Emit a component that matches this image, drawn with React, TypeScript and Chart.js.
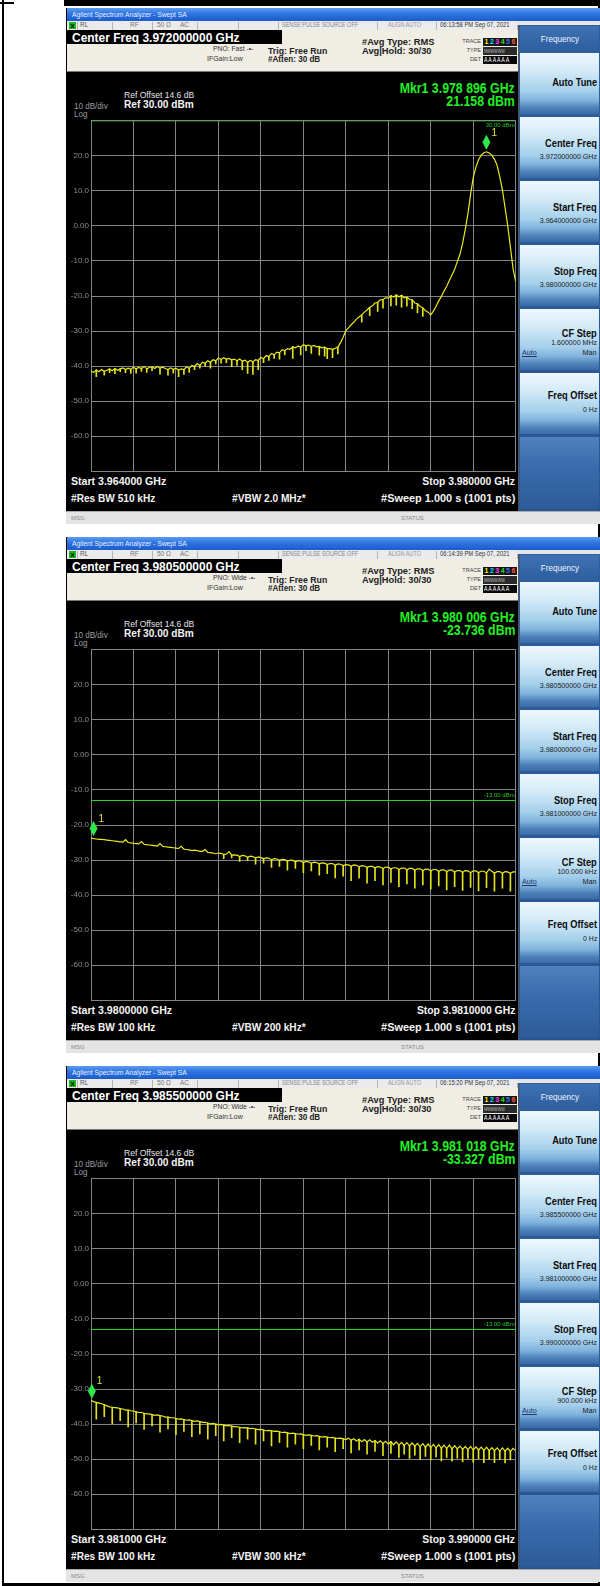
import React, { useEffect, useRef } from 'react';
import { Chart, registerables } from 'chart.js';
Chart.register(...registerables);

const FONT = '"Liberation Sans", Arial, Helvetica, sans-serif';

// ---------------- data ----------------
const sweepStartGHz = [3.964, 3.98, 3.981];
const sweepStopGHz = [3.98, 3.981, 3.99];

// trace levels (dBm) on evenly spaced sweep bins
const trace1Dbm = [
  -41.4, -41.8, -41.1, -41.6, -41.0, -41.5, -41.2, -40.8,
  -41.3, -40.7, -41.2, -40.8, -40.5, -41.0, -40.6, -40.9,
  -40.3, -40.8, -40.4, -40.7, -40.1, -40.8, -40.4, -40.2,
  -40.7, -40.1, -40.6, -40.3, -40.7, -41.0, -40.5, -40.9,
  -40.6, -41.1, -40.8, -41.0, -40.2, -40.7, -39.8, -40.1,
  -39.3, -39.8, -38.9, -39.2, -38.5, -38.9, -38.2, -38.5,
  -37.7, -38.1, -37.6, -38.0, -37.8, -38.2, -38.0, -38.5,
  -38.0, -38.6, -38.3, -38.9, -38.4, -38.8, -38.2, -38.4,
  -37.5, -37.9, -37.0, -37.3, -36.4, -36.8, -36.0, -36.2,
  -35.3, -35.6, -35.0, -35.2, -34.5, -34.8, -34.3, -34.6,
  -33.9, -34.2, -34.0, -34.4, -34.1, -34.5, -34.4, -34.8,
  -34.6, -35.0, -35.0, -35.2, -34.9, -34.6, -33.3, -31.8,
  -29.9, -29.1, -28.2, -27.5, -26.6, -26.0, -25.4, -24.6,
  -24.0, -23.2, -22.8, -22.0, -21.8, -21.1, -21.0, -20.5,
  -20.6, -19.9, -20.3, -19.7, -20.2, -19.8, -20.5, -20.3,
  -21.0, -21.1, -22.0, -22.2, -23.0, -23.4, -24.2, -24.6,
  -25.4, -24.3, -22.9, -21.4, -20.1, -18.6, -17.2, -15.6,
  -14.0, -12.4, -10.2, -8.1, -5.0, -1.0, 3.5, 9.0,
  13.8, 16.8, 18.9, 20.2, 20.9, 21.16, 20.8, 20.2,
  19.0, 17.3, 14.0, 10.2, 5.2, 0.0, -6.0, -12.2,
  -16.0,
];
const trace1DipBin = [2, 5, 7, 9, 11, 13, 15, 17, 19, 21, 23, 26, 29, 31, 33, 35, 37, 39, 41, 43, 45, 47, 49, 51, 53, 55, 57, 59, 61, 63, 65, 67, 69, 71, 73, 76, 79, 81, 83, 86, 88, 89, 91, 93, 102, 105, 108, 110, 113, 115, 117, 119, 121, 123, 125];
const trace1DipDbm = [-43.0, -42.6, -41.9, -42.2, -41.6, -41.9, -42.1, -42.0, -41.5, -41.8, -41.3, -42.3, -42.6, -42.0, -43.0, -42.4, -41.8, -41.0, -40.6, -40.0, -40.6, -39.4, -39.2, -39.0, -40.2, -39.8, -41.0, -42.1, -42.4, -41.0, -39.0, -38.4, -37.8, -38.0, -36.8, -37.8, -36.8, -35.6, -36.4, -36.9, -37.2, -37.9, -37.6, -36.5, -27.5, -25.6, -24.4, -23.5, -22.8, -22.6, -23.2, -22.9, -23.6, -24.8, -25.8];

const trace2Dbm = [
  -23.7, -23.9, -24.0, -24.1, -24.1, -24.2, -24.3, -24.4,
  -24.5, -24.6, -24.7, -24.8, -24.9, -24.2, -25.0, -25.1,
  -25.2, -25.3, -25.4, -24.7, -25.5, -25.6, -25.7, -25.8,
  -25.9, -26.0, -25.3, -26.1, -26.2, -26.3, -26.4, -26.5,
  -26.6, -26.7, -26.1, -26.9, -27.0, -27.1, -27.3, -27.2,
  -27.3, -27.5, -27.5, -27.0, -27.8, -27.9, -28.0, -28.2,
  -28.0, -28.1, -28.4, -28.3, -27.6, -28.6, -28.5, -28.6,
  -29.0, -28.7, -28.8, -29.2, -28.9, -29.0, -29.4, -29.1,
  -29.3, -29.6, -29.4, -29.5, -29.9, -29.6, -29.7, -30.1,
  -29.8, -29.9, -30.3, -30.0, -30.1, -30.5, -30.2, -30.3,
  -30.7, -30.4, -30.5, -30.9, -30.6, -30.7, -31.1, -30.8,
  -30.9, -31.3, -31.0, -31.0, -31.5, -31.1, -31.2, -31.6,
  -31.3, -31.4, -31.8, -31.4, -31.5, -31.9, -31.6, -31.7,
  -32.1, -31.8, -31.8, -32.2, -31.9, -32.0, -32.4, -32.0,
  -32.1, -32.5, -32.2, -32.2, -32.7, -32.3, -32.3, -32.8,
  -32.4, -32.4, -32.9, -32.5, -32.5, -33.0, -32.6, -32.6,
  -33.1, -32.7, -32.7, -33.2, -32.8, -32.8, -33.3, -32.9,
  -32.9, -33.4, -33.0, -33.0, -33.5, -33.0, -33.1, -33.6,
  -33.1, -33.1, -33.6, -33.2, -33.2, -33.7, -32.6, -33.2,
  -33.7, -33.3, -33.3, -33.8, -33.3, -33.4, -33.8, -33.4,
  -33.4,
];
const trace2DipBin = [50, 53, 56, 59, 62, 65, 68, 71, 74, 77, 80, 83, 86, 89, 92, 95, 98, 101, 104, 107, 110, 113, 116, 119, 122, 125, 128, 131, 134, 137, 140, 143, 146, 149, 152, 155, 158];
const trace2DipDbm = [-29.6, -29.4, -30.4, -30.1, -31.2, -30.9, -32.1, -31.8, -32.9, -32.4, -33.6, -33.1, -34.3, -33.9, -35.1, -34.6, -35.9, -35.2, -36.6, -35.9, -37.1, -36.4, -37.6, -36.8, -38.0, -37.1, -38.3, -37.4, -38.5, -37.6, -38.7, -37.8, -38.8, -37.9, -38.9, -38.0, -38.9];

const trace3Dbm = [
  -33.3, -33.6, -33.8, -34.0, -34.2, -34.5, -34.8, -35.1,
  -35.2, -35.3, -35.4, -35.6, -35.7, -36.0, -36.0, -36.2,
  -36.3, -36.5, -36.7, -36.7, -36.9, -37.1, -37.1, -37.3,
  -37.5, -37.4, -37.6, -37.7, -38.0, -38.0, -38.2, -38.2,
  -38.4, -38.6, -38.5, -38.7, -38.9, -38.8, -39.0, -39.2,
  -39.1, -39.3, -39.5, -39.5, -39.7, -39.9, -39.8, -40.0,
  -40.2, -40.1, -40.3, -40.5, -40.4, -40.6, -40.8, -40.7,
  -40.9, -41.1, -41.0, -41.1, -41.3, -41.2, -41.4, -41.6,
  -41.5, -41.7, -41.9, -41.8, -41.9, -42.1, -42.0, -42.2,
  -42.4, -42.3, -42.5, -42.7, -42.6, -42.7, -42.9, -42.8,
  -43.0, -43.2, -43.1, -43.2, -43.4, -43.3, -43.5, -43.7,
  -43.6, -43.7, -43.9, -43.8, -44.0, -44.1, -44.0, -44.2,
  -44.4, -44.0, -44.6, -44.2, -44.8, -44.3, -45.0, -44.4,
  -45.1, -44.5, -45.2, -44.7, -45.4, -44.8, -45.5, -44.9,
  -45.7, -45.0, -45.9, -45.1, -46.0, -45.2, -46.1, -45.3,
  -46.2, -45.4, -46.3, -45.5, -46.5, -45.6, -46.6, -45.7,
  -46.7, -45.8, -46.8, -45.9, -46.9, -46.0, -47.0, -46.0,
  -47.1, -46.2, -47.1, -46.3, -47.2, -46.4, -47.3, -46.4,
  -47.4, -46.5, -47.4, -46.6, -47.5, -46.6, -47.6, -46.7,
  -47.6, -46.8, -47.7, -46.8, -47.7, -46.9, -47.8, -46.9,
  -47.6,
];
const trace3DipBin = [2, 5, 8, 11, 14, 17, 20, 23, 26, 29, 32, 35, 38, 41, 44, 47, 50, 53, 56, 59, 62, 65, 68, 71, 74, 77, 80, 83, 86, 89, 92, 95, 98, 101, 104, 107, 110, 113, 116, 118, 120, 122, 124, 126, 128, 130, 132, 134, 136, 138, 140, 142, 144, 146, 148, 150, 152, 154, 156, 158];
const trace3DipDbm = [
  -38.6, -37.9, -39.9, -39.0, -40.8, -39.7, -41.5, -40.5, -42.3, -41.4,
  -43.0, -42.1, -43.6, -42.8, -44.3, -43.3, -44.8, -43.9, -45.3, -44.3,
  -45.7, -44.8, -46.2, -45.2, -46.6, -45.7, -47.0, -46.1, -47.4, -46.6,
  -47.9, -47.0, -48.2, -47.4, -48.6, -47.8, -49.0, -48.4, -49.5, -48.6,
  -49.8, -48.9, -50.1, -49.2, -50.2, -49.4, -50.5, -49.5, -50.6, -49.7,
  -50.8, -49.8, -50.9, -49.9, -51.0, -50.0, -51.0, -50.1, -51.1, -50.2,
];

const traces = [trace1Dbm, trace2Dbm, trace3Dbm];
const dipBins = [trace1DipBin, trace2DipBin, trace3DipBin];
const dipLevels = [trace1DipDbm, trace2DipDbm, trace3DipDbm];

const markerGHz = [3.978896, 3.980006, 3.981018];
const markerDbm = [21.158, -23.736, -33.327];
const displayLineDbm = [30, -13, -13];
const displayLineText = ['30.00 dBm', '-13.00 dBm', '-13.00 dBm'];

const yTickValues = [-70, -60, -50, -40, -30, -20, -10, 0, 10, 20, 30];
const yTickLabels = ['', '-60.0', '-50.0', '-40.0', '-30.0', '-20.0', '-10.0', '0.00', '10.0', '20.0', ''];

const centerFreqText = ['3.972000000 GHz', '3.980500000 GHz', '3.985500000 GHz'];
const startText = ['3.964000 GHz', '3.9800000 GHz', '3.981000 GHz'];
const stopText = ['3.980000 GHz', '3.9810000 GHz', '3.990000 GHz'];
const centerKeyText = ['3.972000000 GHz', '3.980500000 GHz', '3.985500000 GHz'];
const startKeyText = ['3.964000000 GHz', '3.980000000 GHz', '3.981000000 GHz'];
const stopKeyText = ['3.980000000 GHz', '3.981000000 GHz', '3.990000000 GHz'];
const cfStepText = ['1.600000 MHz', '100.000 kHz', '900.000 kHz'];
const resBwText = ['510 kHz', '100 kHz', '100 kHz'];
const vbwText = ['2.0 MHz*', '200 kHz*', '300 kHz*'];
const pnoText = ['Fast', 'Wide', 'Wide'];
const timeText = ['06:13:58 PM Sep 07, 2021', '06:14:39 PM Sep 07, 2021', '06:15:20 PM Sep 07, 2021'];
const mkrFreqText = ['3.978 896 GHz', '3.980 006 GHz', '3.981 018 GHz'];
const mkrLevelText = ['21.158 dBm', '-23.736 dBm', '-33.327 dBm'];
const traceNumColors = ['#f2f200', '#00e4ff', '#ff44ff', '#22e022', '#4a6cff', '#ff5a3a'];

const panelTops = [8, 537, 1066];

// ---------------- helpers ----------------
function T({ x, y, s, t, b, c = '#000', a = 'l', k = 1, u }: any) {
  const st: any = {
    position: 'absolute', top: y - s / 2, height: s, lineHeight: s + 'px', fontSize: s,
    fontFamily: FONT, fontWeight: b ? 700 : 400, color: c, whiteSpace: 'nowrap',
    textDecoration: u ? 'underline' : 'none',
  };
  if (a === 'l') { st.left = x; st.transform = `scaleX(${k})`; st.transformOrigin = 'left center'; }
  else if (a === 'r') { st.right = 600 - x; st.transform = `scaleX(${k})`; st.transformOrigin = 'right center'; }
  else { st.left = x; st.transform = `translateX(-50%) scaleX(${k})`; st.transformOrigin = 'center center'; }
  return <div style={st}>{t}</div>;
}

function R({ x, y, w, h, bg, st }: any) {
  return <div style={{ position: 'absolute', left: x, top: y, width: w, height: h, background: bg, ...(st || {}) }} />;
}

function TraceChart({ k, top }: { k: number; top: number }) {
  const ref = useRef<HTMLCanvasElement | null>(null);
  useEffect(() => {
    const start = sweepStartGHz[k];
    const stop = sweepStopGHz[k];
    const lv = traces[k];
    const n = lv.length;
    const binGHz = (i: number) => start + ((stop - start) * i) / (n - 1);
    const pts = lv.map((v, i) => ({ x: binGHz(i), y: v }));
    const dips = dipBins[k].map((bi, j) => ({ x: binGHz(bi), y: [lv[bi], dipLevels[k][j]] }));
    const dl = displayLineDbm[k];
    const overlay = {
      id: 'overlay',
      afterDatasetsDraw(chart: any) {
        const { ctx, scales } = chart;
        const xs = scales.x;
        const ys = scales.y;
        const px = xs.getPixelForValue(markerGHz[k]);
        const py = ys.getPixelForValue(markerDbm[k]);
        ctx.save();
        ctx.fillStyle = '#2ee84a';
        ctx.beginPath();
        ctx.moveTo(px, py - 17);
        ctx.lineTo(px + 4, py - 9.5);
        ctx.lineTo(px, py - 2);
        ctx.lineTo(px - 4, py - 9.5);
        ctx.closePath();
        ctx.fill();
        ctx.fillStyle = '#e4e43a';
        ctx.font = `10px ${FONT}`;
        ctx.textAlign = 'left';
        ctx.textBaseline = 'middle';
        ctx.fillText('1', px + 5, py - 19);
        const ly = ys.getPixelForValue(dl);
        ctx.font = `6px ${FONT}`;
        ctx.fillStyle = '#27c827';
        ctx.textAlign = 'right';
        ctx.fillText(displayLineText[k], xs.right - 1, dl >= 30 ? ly + 5 : ly - 5);
        ctx.restore();
      },
    };
    const tickMap: Record<string, string> = {};
    yTickValues.forEach((v, i) => { tickMap[String(v)] = yTickLabels[i]; });
    const chart = new Chart(ref.current as HTMLCanvasElement, {
      type: 'line',
      data: {
        datasets: [
          { type: 'bar', data: dips, backgroundColor: '#e2e21a', borderWidth: 0, barThickness: 1, grouped: false, order: 2 },
          { type: 'line', data: pts, borderColor: '#e8e81c', borderWidth: 1.2, pointRadius: 0, tension: 0, order: 1 },
          { type: 'line', data: [{ x: start, y: dl }, { x: stop, y: dl }], borderColor: '#22dd22', borderWidth: 1, pointRadius: 0, order: 0 },
        ],
      },
      options: {
        animation: false,
        responsive: false,
        maintainAspectRatio: false,
        layout: { padding: { top: 2.6, right: 3.3, bottom: 4, left: 0 } },
        plugins: { legend: { display: false }, tooltip: { enabled: false } },
        scales: {
          x: {
            type: 'linear', min: start, max: stop, offset: false,
            afterBuildTicks: (ax: any) => {
              ax.ticks = Array.from({ length: 11 }, (_, i) => ({ value: start + ((stop - start) * i) / 10 }));
            },
            afterFit: (s: any) => { s.height = 0; },
            ticks: { display: false },
            grid: { color: '#858585', drawTicks: false, lineWidth: 1, offset: false },
            border: { color: '#858585' },
          },
          y: {
            type: 'linear', min: -70, max: 30,
            afterBuildTicks: (ax: any) => { ax.ticks = yTickValues.map((v) => ({ value: v })); },
            afterFit: (s: any) => { s.width = 29; },
            ticks: {
              callback: (v: any) => tickMap[String(v)] ?? '',
              color: '#8c8c8c', font: { size: 8, family: FONT }, padding: 2,
            },
            grid: { color: '#858585', drawTicks: false, lineWidth: 1 },
            border: { color: '#858585' },
          },
        },
      },
      plugins: [overlay],
    } as any);
    return () => chart.destroy();
  }, [k]);
  return (
    <canvas ref={ref} width={457} height={364}
      style={{ position: 'absolute', left: 62, top, width: 457, height: 364 }} />
  );
}

const keyGrad = 'linear-gradient(180deg, #eef8fd 0%, #d2eaf7 30%, #a6d0ec 62%, #7fb2dc 78%, #4d80b8 90%, #3a6aa6 100%)';

function Panel({ k }: { k: number }) {
  const O = panelTops[k];
  const y = (v: number) => O + v;
  const keys = [
    { l: 'Auto Tune', v: null },
    { l: 'Center Freq', v: centerKeyText[k] },
    { l: 'Start Freq', v: startKeyText[k] },
    { l: 'Stop Freq', v: stopKeyText[k] },
    { l: 'CF Step', v: cfStepText[k] },
    { l: 'Freq Offset', v: '0 Hz' },
  ];
  const seps = [77, 112, 152, 197, 238, 278, 377, 436, 517];
  return (
    <>
      {/* screenshot base */}
      <R x={66} y={y(0)} w={534} h={515} bg="#000" />
      {/* title bar */}
      <R x={67} y={y(0)} w={533} h={13} bg="linear-gradient(180deg,#5b9cf2 0%,#2d73e0 45%,#1c5ccc 100%)" />
      <T x={72} y={y(6.5)} s={7.5} t="Agilent Spectrum Analyzer - Swept SA" c="#e8f0ff" k={0.9} />
      {/* status row */}
      <R x={67} y={y(13)} w={533} h={9} bg="#ebebeb" st={{ borderBottom: '1px solid #b8b8b8' }} />
      <R x={69} y={y(14)} w={7} h={7} bg="#1eb41e" />
      <T x={70.5} y={y(17.5)} s={6} t="X" b c="#000" />
      {seps.map((sx, i) => <R key={i} x={sx} y={y(14)} w={1} h={8} bg="#b4b4b4" />)}
      <T x={80} y={y(17.5)} s={6.5} t="RL" c="#555" />
      <T x={130} y={y(17.5)} s={6.5} t="RF" c="#777" />
      <T x={157} y={y(17.5)} s={6.5} t="50 Ω" c="#777" />
      <T x={180} y={y(17.5)} s={6.5} t="AC" c="#777" />
      <T x={282} y={y(17.5)} s={6.5} t="SENSE:PULSE  SOURCE OFF" c="#888" k={0.85} />
      <T x={388} y={y(17.5)} s={6.5} t="ALIGN AUTO" c="#999" k={0.85} />
      <T x={440} y={y(17.5)} s={6.5} t={timeText[k]} c="#333" k={0.9} />
      {/* header */}
      <R x={67} y={y(22)} w={451} h={41} bg="#efede4" st={{ borderBottom: '1px solid #777' }} />
      <R x={67} y={y(22)} w={215} h={14} bg="#000" />
      <T x={72} y={y(29.5)} s={13} t={'Center Freq ' + centerFreqText[k]} b c="#fff" k={0.92} />
      <T x={213} y={y(40.6)} s={7.5} t={'PNO: ' + pnoText[k] + '  -•-'} c="#333" k={0.9} />
      <T x={207} y={y(50.7)} s={7.5} t="IFGain:Low" c="#333" k={0.93} />
      <T x={268} y={y(42.6)} s={9.5} t="Trig: Free Run" b c="#222" k={0.92} />
      <T x={268} y={y(51.7)} s={9} t="#Atten: 30 dB" b c="#222" k={0.9} />
      <T x={362} y={y(33.5)} s={9.5} t="#Avg Type: RMS" b c="#222" k={0.98} />
      <T x={362} y={y(42.6)} s={9.5} t="Avg|Hold: 30/30" b c="#222" k={0.98} />
      <T x={481} y={y(33.5)} s={5.5} t="TRACE" c="#444" a="r" />
      <T x={481} y={y(42.6)} s={5.5} t="TYPE" c="#444" a="r" />
      <T x={481} y={y(52.2)} s={5.5} t="DET" c="#444" a="r" />
      <R x={483} y={y(29.5)} w={34} h={8} bg="#151515" />
      {traceNumColors.map((tc, i) => (
        <T key={i} x={484.5 + i * 5.4} y={y(33.5)} s={7} t={String(i + 1)} b c={tc} />
      ))}
      <R x={483} y={y(38.8)} w={34} h={8} bg="#2a2a2a" />
      <T x={484} y={y(42.6)} s={6} t="MWWWWW" c="#bdbdbd" k={0.62} />
      <R x={483} y={y(48.3)} w={34} h={8} bg="#050505" />
      <T x={484} y={y(52.2)} s={6.5} t="A A A A A A" c="#fff" k={0.8} />
      {/* display texts */}
      <T x={515} y={y(80)} s={14} t={'Mkr1 ' + mkrFreqText[k]} b c="#22f022" a="r" k={0.88} />
      <T x={515} y={y(93)} s={14} t={mkrLevelText[k]} b c="#22f022" a="r" k={0.88} />
      <T x={124} y={y(87)} s={9.5} t="Ref Offset 14.6 dB" c="#e4e4e4" k={0.9} />
      <T x={124} y={y(96.5)} s={11} t="Ref 30.00 dBm" b c="#f4f4f4" k={0.92} />
      <T x={74} y={y(98)} s={8.5} t="10 dB/div" c="#9c9c9c" k={0.95} />
      <T x={74} y={y(106)} s={8.5} t="Log" c="#9c9c9c" k={0.95} />
      <T x={71} y={y(474)} s={11.5} t={'Start ' + startText[k]} b c="#f4f4f4" k={0.92} />
      <T x={515} y={y(474)} s={11.5} t={'Stop ' + stopText[k]} b c="#f4f4f4" a="r" k={0.9} />
      <T x={71} y={y(491)} s={11.5} t={'#Res BW ' + resBwText[k]} b c="#f4f4f4" k={0.88} />
      <T x={232} y={y(491)} s={11.5} t={'#VBW ' + vbwText[k]} b c="#f4f4f4" k={0.88} />
      <T x={515} y={y(491)} s={11.5} t="#Sweep  1.000 s (1001 pts)" b c="#f4f4f4" a="r" k={0.95} />
      {/* chart */}
      <TraceChart k={k} top={y(106)} />
      {/* softkeys */}
      <R x={517} y={y(13)} w={83} h={4} bg="#e6e6e6" />
      <R x={518} y={y(17)} w={82} h={486} bg="linear-gradient(180deg,#2f5f9f,#2a5592)" st={{ borderLeft: '1px solid #555' }} />
      <R x={520} y={y(18)} w={79} h={25} bg="linear-gradient(180deg,#3f72b4,#2d5f9f)" />
      <T x={560} y={y(31)} s={9} t="Frequency" c="#f0f4ff" a="c" k={0.9} />
      {keys.map((kk, i) => {
        const by = y(45 + i * 64);
        return (
          <React.Fragment key={i}>
            <R x={520} y={by} w={79} h={61} bg={keyGrad} />
            {kk.v === null ? (
              <T x={597} y={by + 29} s={10.5} t={kk.l} b c="#0c0c0c" a="r" k={0.88} />
            ) : i === 4 ? (
              <>
                <T x={597} y={by + 24} s={10.5} t={kk.l} b c="#0c0c0c" a="r" k={0.88} />
                <T x={597} y={by + 34} s={8} t={kk.v} c="#1c1c1c" a="r" k={0.88} />
                <T x={522} y={by + 44} s={8} t="Auto" c="#1a3570" u k={0.9} />
                <T x={597} y={by + 44} s={8} t="Man" c="#1c1c1c" a="r" k={0.9} />
              </>
            ) : (
              <>
                <T x={597} y={by + (i === 5 ? 22 : 26)} s={10.5} t={kk.l} b c="#0c0c0c" a="r" k={0.88} />
                <T x={597} y={by + (i === 5 ? 37 : 40)} s={8} t={kk.v} c="#1c1c1c" a="r" k={0.88} />
              </>
            )}
          </React.Fragment>
        );
      })}
      <R x={520} y={y(429)} w={79} h={72} bg="linear-gradient(180deg,#4f82c0 0%,#3a6cad 40%,#2c5b9a 100%)" />
      {/* msg bar */}
      <R x={66} y={y(503)} w={534} h={12} bg="#e4e4e4" st={{ borderTop: '1px solid #aaa' }} />
      <T x={71} y={y(509.5)} s={6} t="MSG" c="#888" />
      <T x={401} y={y(509.5)} s={6} t="STATUS" c="#888" />
    </>
  );
}

export default function App() {
  return (
    <div style={{ position: 'absolute', left: 0, top: 0, width: 600, height: 1586, background: '#fff', overflow: 'hidden' }}>
      <R x={2} y={0} w={2} h={1586} bg="#000" />
      <R x={0} y={2} w={14} h={2} bg="#000" />
      <R x={64} y={0} w={536} h={6} bg="#000" />
      <R x={598} y={0} w={2} h={1586} bg="#000" />
      <R x={2} y={1583} w={598} h={3} bg="#000" />
      {[0, 1, 2].map((k) => <Panel key={k} k={k} />)}
    </div>
  );
}
